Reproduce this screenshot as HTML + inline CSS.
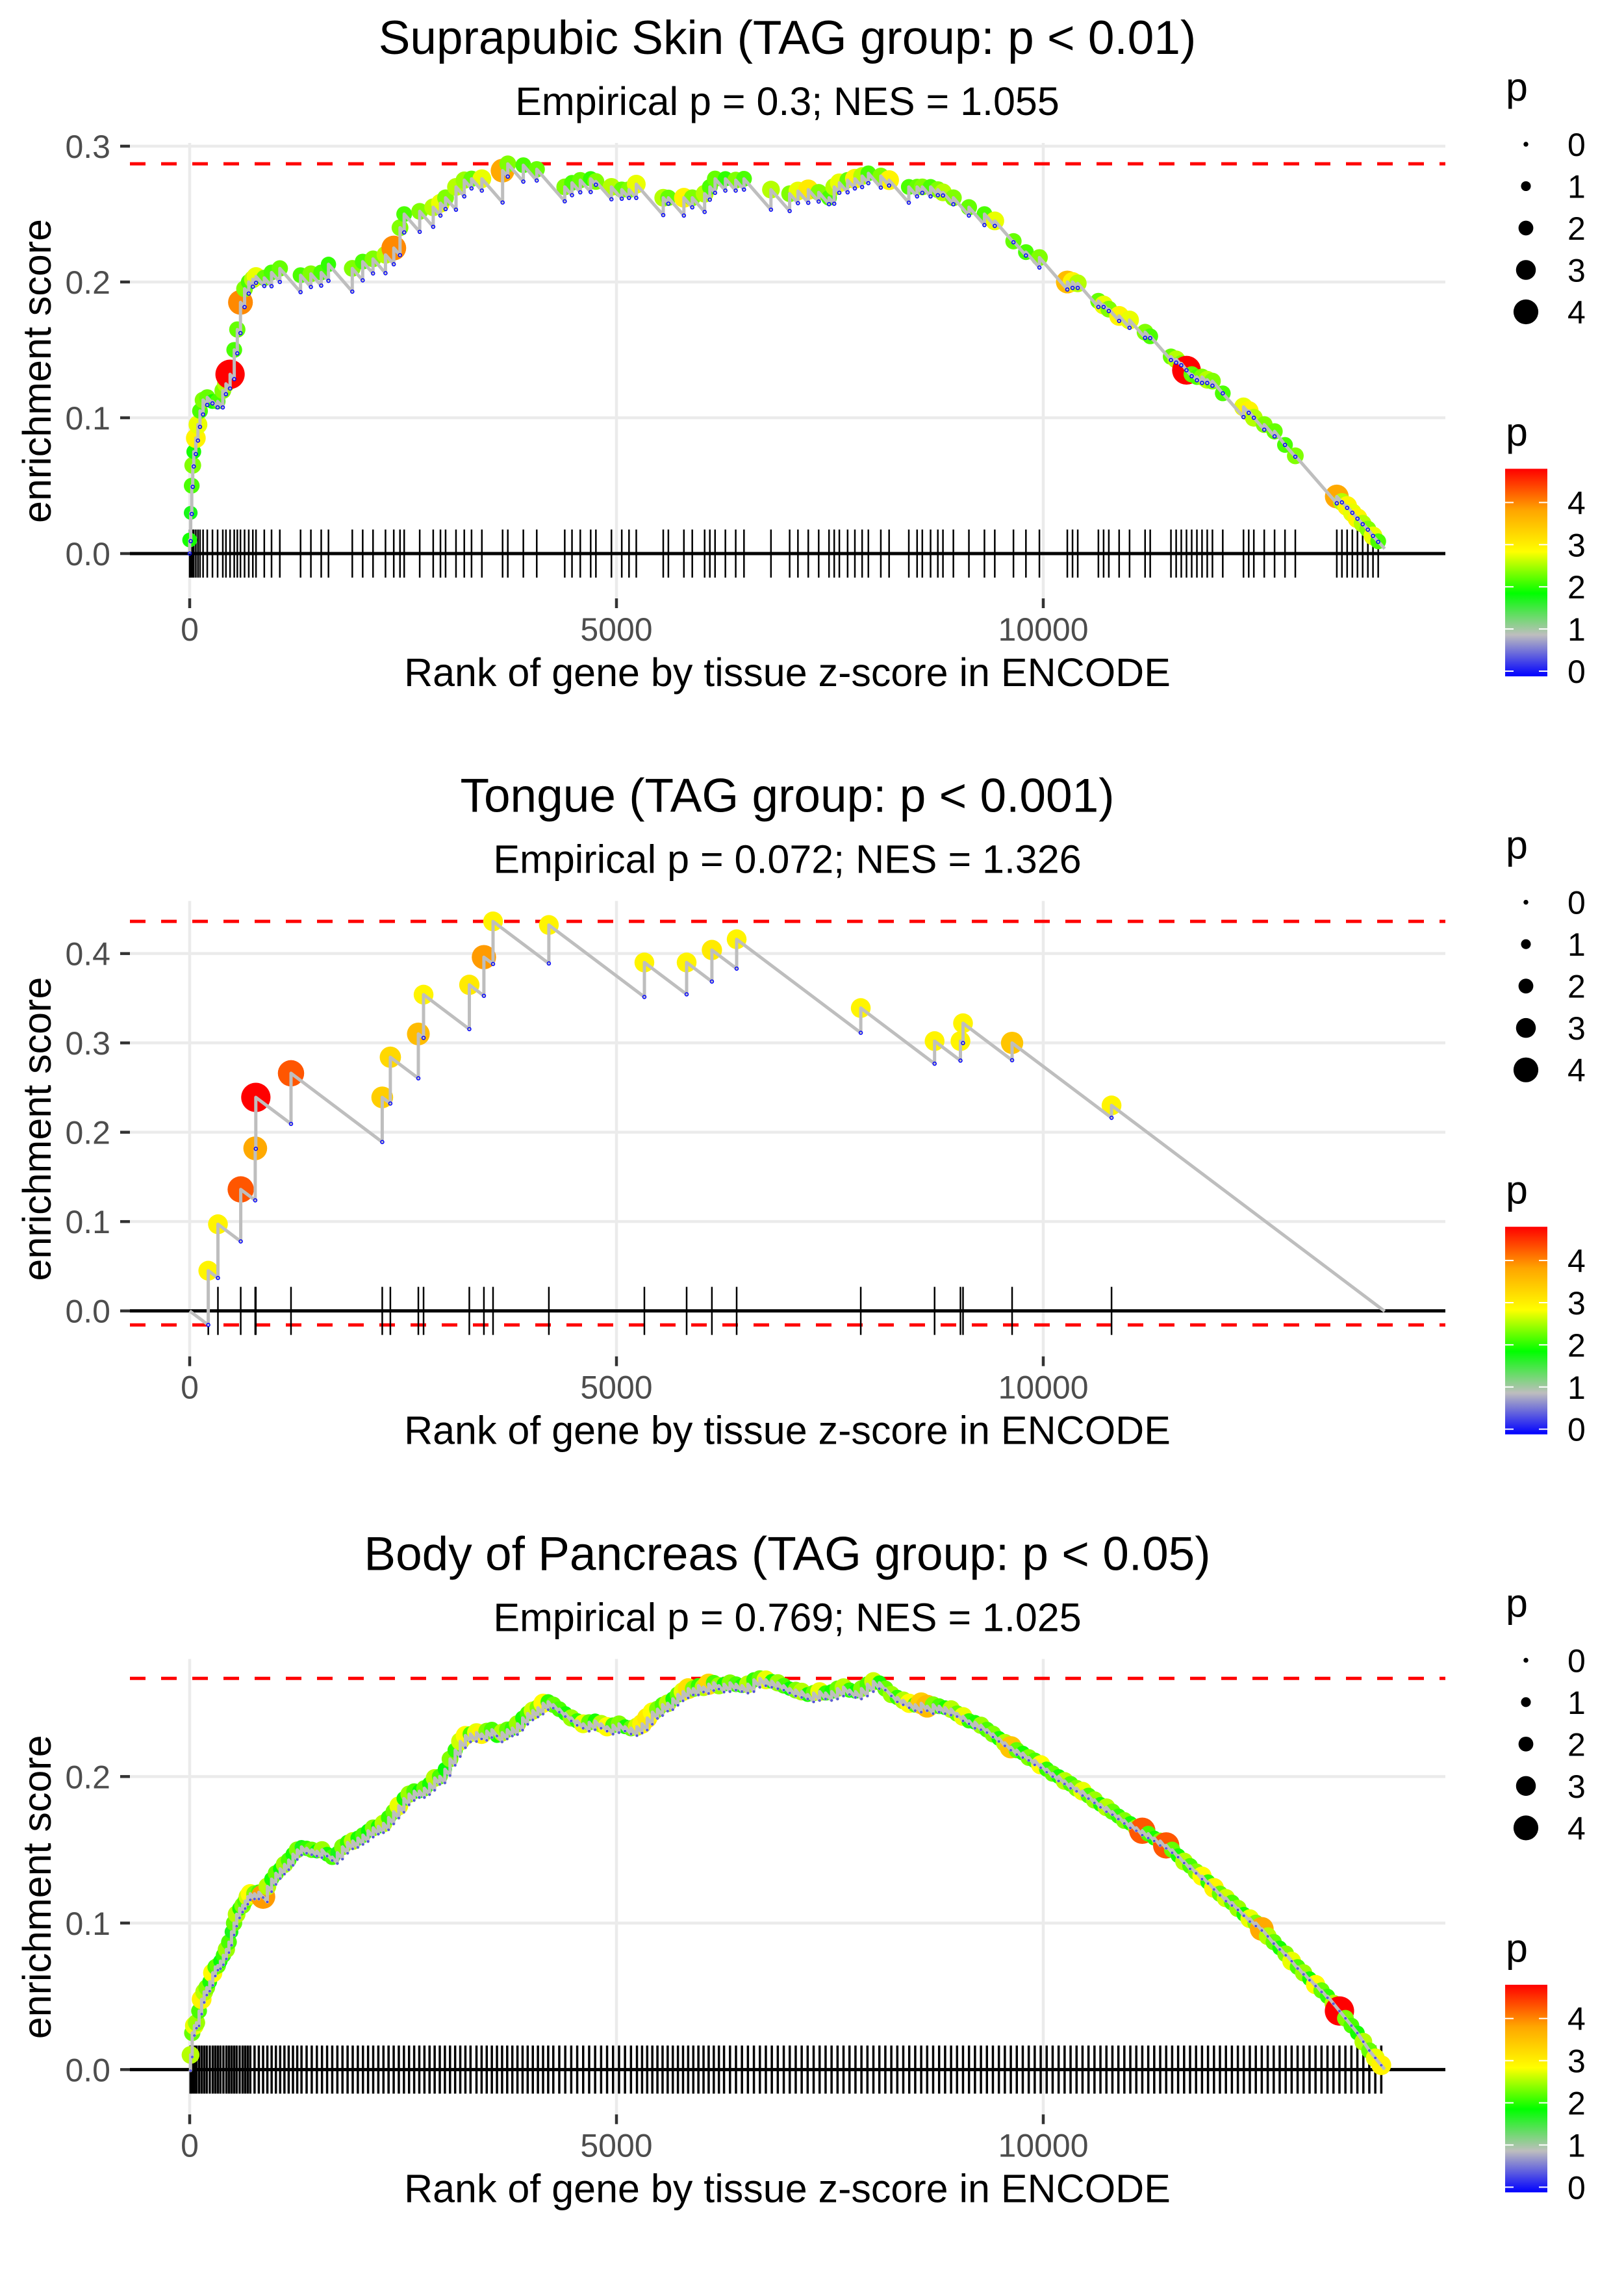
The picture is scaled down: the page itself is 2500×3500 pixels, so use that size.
<!DOCTYPE html>
<html><head><meta charset="utf-8"><title>Enrichment plots</title>
<style>html,body{margin:0;padding:0;background:#fff}svg{display:block}text{font-family:"Liberation Sans",Arial,sans-serif}</style>
</head><body>
<svg id="fig" xmlns="http://www.w3.org/2000/svg" width="2500" height="3500" viewBox="0 0 2500 3500"></svg>
<script>
// ---------- data ----------
const xTicks = [0, 5000, 10000];
const xTickLabels = ["0", "5000", "10000"];
const nGenes = 14000;
const declinePerRank = 7.2e-5;

const skinYTicks = [0, 0.1, 0.2, 0.3];
const skinYTickLabels = ["0.0", "0.1", "0.2", "0.3"];
const skinRanks = [0,12,24,36,48,72,97,121,157,206,267,327,388,425,473,522,558,595,643,692,740,777,874,959,1056,1299,1420,1541,1626,1905,2027,2148,2294,2391,2464,2513,2695,2853,2938,2998,3120,3217,3302,3423,3666,3727,3909,4066,4394,4479,4576,4698,4759,4941,5062,5147,5232,5548,5608,5790,5888,6033,6094,6155,6276,6397,6494,6810,7029,7126,7247,7369,7490,7551,7611,7708,7793,7878,7951,8097,8194,8425,8522,8583,8680,8765,8825,8947,9129,9311,9432,9651,9797,9955,10282,10343,10404,10646,10707,10768,10889,11011,11193,11253,11496,11557,11617,11678,11739,11800,11860,11921,11982,12103,12346,12407,12467,12589,12710,12832,12953,13439,13499,13560,13621,13681,13742,13803,13863,13924];
const skinES = [0.01,0.03,0.05,0.065,0.075,0.085,0.095,0.105,0.113,0.115,0.112,0.112,0.12,0.125,0.132,0.15,0.165,0.185,0.195,0.2,0.202,0.204,0.203,0.207,0.21,0.205,0.206,0.207,0.213,0.21,0.215,0.217,0.22,0.225,0.24,0.25,0.252,0.255,0.258,0.262,0.27,0.275,0.276,0.276,0.282,0.287,0.286,0.283,0.27,0.273,0.275,0.276,0.274,0.27,0.268,0.268,0.272,0.262,0.262,0.262,0.262,0.265,0.27,0.276,0.276,0.275,0.276,0.268,0.265,0.267,0.268,0.266,0.262,0.27,0.273,0.275,0.276,0.278,0.28,0.278,0.275,0.27,0.27,0.27,0.27,0.268,0.266,0.262,0.255,0.25,0.245,0.23,0.222,0.218,0.2,0.2,0.199,0.186,0.183,0.18,0.175,0.172,0.163,0.16,0.145,0.143,0.14,0.135,0.132,0.13,0.13,0.128,0.127,0.118,0.108,0.105,0.1,0.095,0.09,0.08,0.072,0.042,0.038,0.035,0.03,0.026,0.022,0.018,0.013,0.009];
const skinP = [2.0,1.8,2.2,2.4,2.0,3.0,2.8,2.2,2.4,2.3,2.0,2.2,2.4,2.6,4.9,2.2,2.3,4.0,2.4,2.2,2.6,2.8,2.3,2.2,2.3,2.2,2.4,2.2,2.1,2.4,2.2,2.4,2.6,4.0,2.4,2.2,2.4,2.6,2.8,2.4,2.6,2.5,2.3,2.8,3.8,2.4,2.2,2.3,2.4,2.2,2.3,2.1,2.4,2.6,2.3,2.4,2.8,2.6,2.3,3.0,2.4,2.6,2.2,2.3,2.1,2.4,2.2,2.6,2.4,2.8,3.1,2.4,2.2,2.6,2.8,2.3,3.0,2.6,2.2,2.4,3.0,2.2,2.3,2.4,2.2,2.4,2.6,2.4,2.3,2.2,2.8,2.3,2.2,2.4,3.6,3.0,2.6,2.3,2.8,2.4,3.0,2.8,2.4,2.2,2.3,2.6,2.4,4.8,2.3,2.2,2.4,2.6,2.4,2.2,2.8,3.0,2.6,2.4,2.3,2.2,2.4,3.8,2.6,3.0,2.8,3.0,2.6,2.4,2.8,2.2];

const tongueYTicks = [0, 0.1, 0.2, 0.3, 0.4];
const tongueYTickLabels = ["0.0", "0.1", "0.2", "0.3", "0.4"];
const tongueRanks = [218,331,598,768,775,1187,2256,2351,2679,2740,3276,3447,3554,4208,5327,5822,6118,6408,7862,8727,9030,9060,9635,10800];
const tongueES = [0.045,0.097,0.136,0.182,0.239,0.266,0.239,0.284,0.310,0.354,0.365,0.396,0.436,0.432,0.390,0.390,0.404,0.416,0.339,0.302,0.302,0.322,0.300,0.230];
const tongueP = [3.0,3.0,4.3,3.8,4.9,4.3,3.4,3.3,3.6,3.0,3.1,3.9,3.0,3.0,3.0,3.0,3.1,3.0,3.0,3.0,3.0,3.0,3.5,3.0];

const pancYTicks = [0, 0.1, 0.2];
const pancYTickLabels = ["0.0", "0.1", "0.2"];
const pancRanks = [10,30,55,80,110,140,170,200,235,270,300,330,360,395,430,460,490,520,550,585,620,650,680,710,
760,810,860,910,960,1010,1060,1110,1160,1210,1260,1310,
1370,1430,1490,1550,1610,1670,1730,1790,1850,1910,1970,
2030,2090,2150,2210,2270,2330,2390,2450,2510,2570,2630,2690,
2750,2810,2870,2930,2990,3050,3110,3170,3230,3290,
3360,3420,3480,3540,3600,3660,3720,3780,3840,3900,3960,4020,4080,4140,4200,4260,
4330,4400,4470,4540,4610,4680,4750,4820,4890,4960,5030,5100,5170,5240,5300,
5360,5420,5480,5540,5600,5660,5720,5780,5840,5900,5960,6020,6080,6140,6200,6260,
6330,6400,6470,6540,6610,6680,6750,6820,6890,6960,7030,7100,7170,7240,7310,7380,7450,
7520,7590,7660,7730,7800,7870,7940,8010,8080,8150,8220,8290,8360,8430,8500,
8570,8640,8710,8780,8850,8920,8990,9060,9130,9200,9270,9340,9410,9480,
9550,9620,9690,9760,9830,9900,9970,10040,10110,10180,10250,10320,10390,10460,
10530,10600,10670,10740,10810,10880,10950,11020,11090,11160,11230,11300,11370,11440,
11510,11580,11650,11720,11790,11860,11930,12000,12070,12140,12210,12280,12350,12420,12490,
12560,12630,12700,12770,12840,12910,12980,13050,13120,13190,13260,13330,13400,13470,13540,13610,13680,13750,13820,13890,13960];
const pancES = [0.01,0.025,0.03,0.032,0.04,0.048,0.053,0.056,0.06,0.066,0.07,0.071,0.074,0.078,0.082,0.087,0.094,0.1,0.106,0.11,0.112,0.115,0.118,0.12,
0.12,0.121,0.118,0.125,0.13,0.134,0.137,0.14,0.143,0.147,0.15,0.152,
0.151,0.15,0.149,0.15,0.147,0.145,0.148,0.152,0.155,0.156,0.158,
0.16,0.163,0.165,0.166,0.168,0.172,0.176,0.18,0.185,0.188,0.19,0.19,
0.192,0.195,0.199,0.2,0.205,0.212,0.218,0.224,0.228,0.229,
0.23,0.229,0.231,0.232,0.228,0.23,0.232,0.233,0.236,0.24,0.243,0.245,0.247,0.25,0.251,0.249,
0.246,0.243,0.24,0.238,0.236,0.237,0.238,0.236,0.234,0.235,0.236,0.234,0.233,0.234,0.236,
0.24,0.244,0.246,0.249,0.25,0.253,0.256,0.258,0.26,0.26,0.262,0.261,0.263,0.264,0.262,0.263,
0.264,0.263,0.262,0.263,0.266,0.267,0.266,0.265,0.264,0.262,0.26,0.259,0.258,0.256,0.257,0.258,0.257,
0.258,0.26,0.261,0.259,0.258,0.26,0.263,0.265,0.264,0.26,0.256,0.254,0.252,0.25,0.249,
0.25,0.248,0.249,0.248,0.247,0.246,0.243,0.241,0.238,0.237,0.235,0.232,0.229,0.226,
0.223,0.22,0.218,0.216,0.213,0.211,0.208,0.205,0.202,0.2,0.197,0.195,0.192,0.19,
0.187,0.184,0.181,0.179,0.176,0.173,0.17,0.168,0.165,0.163,0.161,0.158,0.156,0.153,
0.15,0.146,0.142,0.139,0.135,0.132,0.128,0.124,0.12,0.117,0.114,0.11,0.106,0.103,0.1,
0.096,0.091,0.087,0.083,0.079,0.074,0.07,0.066,0.062,0.058,0.054,0.05,0.045,0.04,0.035,0.03,0.025,0.019,0.013,0.008,0.003];
const pancP = [2.6,2.3,2.8,2.5,2.2,3.0,2.6,2.4,2.0,2.9,2.2,2.3,1.9,2.1,2.5,2.2,1.8,2.3,2.6,2.0,2.4,2.2,2.7,2.9,
2.4,2.2,3.9,2.6,2.0,2.3,1.9,2.5,2.2,2.0,2.4,1.8,
2.1,2.3,1.9,2.5,2.0,2.2,1.8,2.4,2.1,2.6,2.0,
2.2,1.9,2.4,2.0,2.6,2.1,2.3,2.8,2.0,2.5,2.2,1.9,
2.3,2.0,2.6,2.2,1.9,2.4,2.1,2.7,2.9,2.2,
2.8,3.0,2.4,2.2,2.0,2.6,2.3,2.1,2.5,2.0,2.2,2.7,2.4,2.9,2.1,2.3,
2.2,2.0,2.5,2.1,2.8,2.3,2.0,2.6,2.9,2.2,2.4,2.0,2.3,2.7,3.0,
3.1,2.9,2.4,2.2,2.6,2.0,2.3,2.8,3.2,2.4,2.1,2.6,3.3,2.2,2.5,2.0,
2.4,2.2,2.0,2.6,2.1,2.3,2.8,2.0,2.5,2.2,1.9,2.4,2.6,2.0,2.3,2.8,2.1,
2.0,2.3,2.6,2.1,1.9,2.4,2.2,2.7,2.0,2.3,2.5,2.1,2.6,2.9,2.2,
3.4,3.6,2.4,2.2,2.0,2.6,2.3,2.8,2.1,2.0,2.5,2.2,2.4,2.0,
2.6,3.5,2.3,2.0,2.4,2.2,2.9,2.1,2.3,2.0,2.6,2.2,2.4,2.8,
2.2,2.5,2.0,2.6,2.3,2.1,2.4,2.0,2.5,4.3,2.2,2.0,2.4,4.3,
2.3,2.0,2.6,2.2,2.4,2.9,2.1,3.0,2.3,2.7,2.2,2.5,2.0,2.8,2.4,
3.8,2.6,2.3,2.0,2.4,2.8,2.2,2.5,2.0,2.9,2.3,2.1,2.6,4.9,2.4,2.2,2.0,2.6,2.3,2.8,3.0];

const sizeLegendValues = [0, 1, 2, 3, 4];
const colorLegendValues = [0, 1, 2, 3, 4];

// ---------- helpers ----------
const NS = "http://www.w3.org/2000/svg";
const svg = document.getElementById("fig");
function mk(parent, tag, attrs, txt) {
  const e = document.createElementNS(NS, tag);
  for (const k in attrs) e.setAttribute(k, attrs[k]);
  if (txt !== undefined) e.textContent = txt;
  parent.appendChild(e);
  return e;
}
const gradStops = [[0,[0,0,255]],[0.96,[190,190,190]],[1.92,[0,255,0]],[2.88,[255,255,0]],[3.84,[255,165,0]],[4.8,[255,0,0]]];
function pColor(p) {
  if (p <= 0) p = 0;
  if (p >= 4.8) p = 4.8;
  for (let i = 0; i < gradStops.length - 1; i++) {
    const a = gradStops[i], b = gradStops[i + 1];
    if (p <= b[0]) {
      const t = (p - a[0]) / (b[0] - a[0]);
      const c = a[1].map((v, j) => Math.round(v + (b[1][j] - v) * t));
      return "rgb(" + c.join(",") + ")";
    }
  }
  return "rgb(255,0,0)";
}
function pRadius(p) { return 3.7 + 3.85 * p; }
const X0 = 292, XPER = 657 / 5000;
function xs(r) { return X0 + r * XPER; }
const PANEL_L = 200, PANEL_R = 2225;

const defs = mk(svg, "defs", {});
const lg = mk(defs, "linearGradient", {id: "pgrad", x1: "0", y1: "1", x2: "0", y2: "0"});
gradStops.forEach(s => {
  mk(lg, "stop", {offset: (s[0] / 4.8).toFixed(3), "stop-color": "rgb(" + s[1].join(",") + ")"});
});

function drawPanel(idx, key, title, subtitle, ranks, es, ps, yTicks, yTickLabels, zeroRel, perUnit, rugW, dotR) {
  const off = idx * 1166.67;
  const ys = v => off + zeroRel - v * perUnit;
  const top = off + 220, bot = off + 921;
  const g = mk(svg, "g", {});
  
  

  let t = mk(g, "text", {x: 1212, y: off + 83, "font-size": 73, "text-anchor": "middle", fill: "#000"}, title);
  
  
  t = mk(g, "text", {x: 1212, y: off + 177, "font-size": 61, "text-anchor": "middle", fill: "#000"}, subtitle);
  
  

  yTicks.forEach((v, i) => {
    const y = ys(v);
    const gl = mk(g, "line", {x1: PANEL_L, x2: PANEL_R, y1: y, y2: y, stroke: "#ebebeb", "stroke-width": 4.5});
    
    
    const tk = mk(g, "line", {x1: PANEL_L - 15, x2: PANEL_L, y1: y, y2: y, stroke: "#333", "stroke-width": 4.5});
    
    
    const lb = mk(g, "text", {x: 170, y: y + 18, "font-size": 50, "text-anchor": "end", fill: "#4d4d4d"}, yTickLabels[i]);
    
    
  });
  xTicks.forEach((v, i) => {
    const x = xs(v);
    const gl = mk(g, "line", {x1: x, x2: x, y1: top, y2: bot, stroke: "#ebebeb", "stroke-width": 4.5});
    
    
    const tk = mk(g, "line", {x1: x, x2: x, y1: bot, y2: bot + 15, stroke: "#333", "stroke-width": 4.5});
    
    
    const lb = mk(g, "text", {x: x, y: off + 986, "font-size": 50, "text-anchor": "middle", fill: "#4d4d4d"}, xTickLabels[i]);
    
    
  });
  t = mk(g, "text", {x: 1212, y: off + 1056, "font-size": 61, "text-anchor": "middle", fill: "#000"}, "Rank of gene by tissue z-score in ENCODE");
  
  
  const yc = off + 571;
  t = mk(g, "text", {x: 0, y: 0, "font-size": 61, "text-anchor": "middle", fill: "#000", transform: "translate(78," + yc + ") rotate(-90)"}, "enrichment score");
  
  

  let prevR = 0, prevT = 0, minB = 0, maxT = -1;
  const bottoms = [];
  let d = "M" + xs(0).toFixed(1) + "," + ys(0).toFixed(1);
  for (let i = 0; i < ranks.length; i++) {
    let b = prevT - declinePerRank * (ranks[i] - prevR);
    if (b > es[i]) b = es[i];
    bottoms.push(b);
    if (b < minB) minB = b;
    if (es[i] > maxT) maxT = es[i];
    d += " L" + xs(ranks[i]).toFixed(1) + "," + ys(b).toFixed(1) + " L" + xs(ranks[i]).toFixed(1) + "," + ys(es[i]).toFixed(1);
    prevR = ranks[i]; prevT = es[i];
  }
  d += " L" + xs(nGenes).toFixed(1) + "," + ys(prevT - declinePerRank * (nGenes - prevR)).toFixed(1);

  let dl = mk(g, "line", {x1: PANEL_L, x2: PANEL_R, y1: ys(maxT), y2: ys(maxT), stroke: "#ff0000", "stroke-width": 5, "stroke-dasharray": "24 24"});
  
  
  if (minB < -0.005) {
    dl = mk(g, "line", {x1: PANEL_L, x2: PANEL_R, y1: ys(minB), y2: ys(minB), stroke: "#ff0000", "stroke-width": 5, "stroke-dasharray": "24 24"});
    
    
  }

  ranks.forEach(r => {
    const rl = mk(g, "line", {x1: xs(r), x2: xs(r), y1: ys(0) - 37, y2: ys(0) + 37, stroke: "#000", "stroke-width": rugW});
    
    
  });
  const zl = mk(g, "line", {x1: PANEL_L, x2: PANEL_R, y1: ys(0), y2: ys(0), stroke: "#000", "stroke-width": 5});
  
  

  ranks.forEach((r, i) => {
    const c = mk(g, "circle", {cx: xs(r), cy: ys(es[i]), r: pRadius(ps[i]), fill: pColor(ps[i])});
    
    
  });
  const pth = mk(g, "path", {d: d, fill: "none", stroke: "#bebebe", "stroke-width": 5, "stroke-linejoin": "round"});
  
  
  ranks.forEach((r, i) => {
    const c = mk(g, "circle", {cx: xs(r), cy: ys(bottoms[i]), r: dotR, fill: "none", stroke: "#0000ff", "stroke-width": dotR > 2 ? 1.5 : 0.8});
    
    
  });

  const lgG = mk(g, "g", {});
  
  
  t = mk(lgG, "text", {x: 2318, y: off + 155, "font-size": 61, fill: "#000"}, "p");
  
  
  sizeLegendValues.forEach((v, i) => {
    const y = off + 222 + i * 64.5;
    const c = mk(lgG, "circle", {cx: 2349, cy: y, r: pRadius(v), fill: "#000"});
    
    
    const l = mk(lgG, "text", {x: 2413, y: y + 18, "font-size": 50, fill: "#000"}, String(v));
    
    
  });
  t = mk(lgG, "text", {x: 2318, y: off + 686, "font-size": 61, fill: "#000"}, "p");
  
  
  const cbTop = off + 721.5, cbBot = off + 1041;
  const bar = mk(lgG, "rect", {x: 2317, y: cbTop, width: 65, height: cbBot - cbTop, fill: "url(#pgrad)"});
  
  
  colorLegendValues.forEach(v => {
    const y = off + 1033 - v * 64.9;
    const a = mk(lgG, "line", {x1: 2317, x2: 2330, y1: y, y2: y, stroke: "#fff", "stroke-width": 2});
    
    
    const b = mk(lgG, "line", {x1: 2369, x2: 2382, y1: y, y2: y, stroke: "#fff", "stroke-width": 2});
    
    
    const l = mk(lgG, "text", {x: 2413, y: y + 18, "font-size": 50, fill: "#000"}, String(v));
    
    
  });
}

drawPanel(0, "suprapubic-skin", "Suprapubic Skin (TAG group: p < 0.01)", "Empirical p = 0.3; NES = 1.055",
  skinRanks, skinES, skinP, skinYTicks, skinYTickLabels, 852, 2090, 2.5, 2.5);
drawPanel(1, "tongue", "Tongue (TAG group: p < 0.001)", "Empirical p = 0.072; NES = 1.326",
  tongueRanks, tongueES, tongueP, tongueYTicks, tongueYTickLabels, 851, 1375, 2.5, 2.5);
drawPanel(2, "body-of-pancreas", "Body of Pancreas (TAG group: p < 0.05)", "Empirical p = 0.769; NES = 1.025",
  pancRanks, pancES, pancP, pancYTicks, pancYTickLabels, 852, 2255, 3.5, 1.2);
</script>
</body></html>
